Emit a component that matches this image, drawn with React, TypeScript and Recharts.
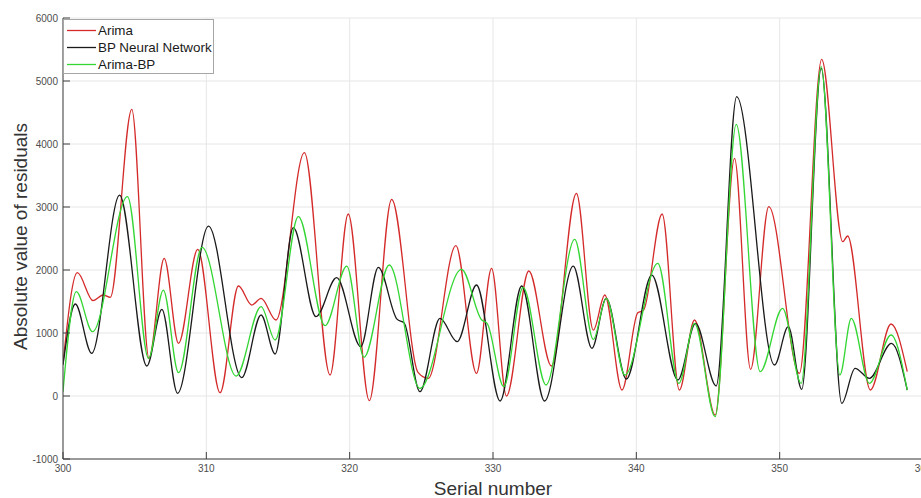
import React from 'react';
import { LineChart, Line, XAxis, YAxis, CartesianGrid, Legend } from 'recharts';

// [serial number, absolute residual] — read at the curve extrema
const arimaPoints: [number, number][] = [
  [300, 520], [301.0, 1957], [302.1, 1513], [302.8, 1603], [303.3, 1566], [304.8, 4550],
  [306.0, 598], [307.06, 2185], [308.06, 836], [309.4, 2328], [310.96, 52], [312.24, 1746],
  [313.17, 1444], [313.82, 1550], [314.86, 1206], [316.84, 3862], [318.63, 333], [319.9, 2889],
  [321.37, -74], [322.93, 3122], [324.78, 370], [325.48, 280], [327.41, 2386], [328.85, 360],
  [329.9, 2026], [330.94, 0], [332.5, 1984], [334.08, 476], [335.82, 3217], [337.0, 1047],
  [337.8, 1603], [339.0, 95], [340.1, 1320], [340.5, 1360], [341.8, 2889], [343.0, 95],
  [344.06, 1206], [345.5, -302], [346.85, 3773], [347.97, 424], [349.24, 3005], [351.38, 360],
  [352.93, 5344], [354.4, 2449], [354.74, 2540], [356.33, 95], [357.77, 1143], [358.9, 386],
];

const bpPoints: [number, number][] = [
  [300, 492], [300.86, 1460], [302.0, 677], [303.95, 3190], [305.85, 476], [306.9, 1376],
  [307.99, 43], [310.15, 2698], [312.47, 291], [313.82, 1286], [314.8, 667], [316.07, 2672],
  [317.65, 1259], [319.09, 1878], [320.77, 783], [322.0, 2042], [323.3, 1220], [323.8, 1160],
  [324.9, 68], [326.3, 1233], [327.5, 862], [328.85, 1762], [330.5, -79], [332.0, 1746],
  [333.6, -79], [335.6, 2063], [336.9, 757], [337.9, 1550], [339.3, 270], [341.08, 1920],
  [342.9, 254], [344.13, 1154], [345.57, 159], [347.0, 4751], [349.64, 492], [350.6, 1100],
  [351.54, 106], [352.9, 5201], [354.33, -116], [355.26, 440], [356.26, 280], [357.8, 836],
  [358.9, 95],
];

const hybridPoints: [number, number][] = [
  [300, 68], [300.93, 1656], [302.06, 1021], [304.5, 3164], [305.97, 598], [307.0, 1682],
  [308.06, 370], [309.7, 2360], [312.08, 317], [313.82, 1418], [314.8, 889], [316.42, 2846],
  [318.28, 1116], [319.8, 2063], [321.0, 614], [322.76, 2079], [324.9, 122], [327.8, 2011],
  [329.2, 1210], [329.6, 1150], [330.75, 148], [332.1, 1725], [333.7, 175], [335.7, 2487],
  [337.0, 900], [337.9, 1550], [339.2, 333], [341.5, 2106], [342.97, 201], [344.06, 1154],
  [345.5, -328], [346.97, 4312], [348.64, 386], [350.2, 1392], [351.5, 201], [352.9, 5228],
  [354.2, 333], [355.0, 1233], [356.26, 201], [357.77, 968], [358.9, 95],
];

const xTicks = [300, 310, 320, 330, 340, 350, 360];
const yTicks = [-1000, 0, 1000, 2000, 3000, 4000, 5000, 6000];
const seriesNames = ['Arima', 'BP Neural Network', 'Arima-BP'];
const seriesColors = ['#d42a2a', '#1a1a1a', '#33d633'];

const toRows = (pts: [number, number][]) => pts.map(([x, y]) => ({ x, y }));

const FONT = '"Liberation Sans", Arial, Helvetica, sans-serif';

const renderLegend = () => (
  <div
    style={{
      width: 151,
      height: 55,
      boxSizing: 'border-box',
      border: '1px solid #a6a6a6',
      background: '#fff',
      paddingTop: 2,
      fontFamily: FONT,
      fontSize: 13.4,
      color: '#1a1a1a',
    }}
  >
    {seriesNames.map((name, i) => (
      <div key={name} style={{ height: 17, lineHeight: '17px', display: 'flex', alignItems: 'center' }}>
        <svg width={34} height={17} style={{ flex: 'none' }}>
          <line x1={3} y1={8.5} x2={32} y2={8.5} stroke={seriesColors[i]} strokeWidth={1.3} />
        </svg>
        <span style={{ whiteSpace: 'nowrap' }}>{name}</span>
      </div>
    ))}
  </div>
);

const renderXLabel = (props: any) => {
  const vb = props.viewBox || {};
  return (
    <text
      x={vb.x + vb.width / 2}
      y={495}
      textAnchor="middle"
      fontFamily={FONT}
      fontSize={19}
      fill="#333"
    >
      Serial number
    </text>
  );
};

const renderYLabel = (props: any) => {
  const vb = props.viewBox || {};
  const cx = 20;
  const cy = vb.y + vb.height / 2 - 2;
  return (
    <text
      x={cx}
      y={cy}
      transform={`rotate(-90 ${cx} ${cy})`}
      textAnchor="middle"
      dominantBaseline="central"
      fontFamily={FONT}
      fontSize={19}
      fill="#333"
    >
      Absolute value of residuals
    </text>
  );
};

export default function App() {
  const tickStyle = { fontSize: 10, fill: '#4d4d4d', fontFamily: FONT };
  return (
    <div style={{ width: 921, height: 498, overflow: 'hidden', position: 'relative', background: '#fff' }}>
      <style>{'body{margin:0;overflow:hidden;background:#fff}'}</style>
      <LineChart width={940} height={498} margin={{ top: 18, right: 17, left: 0, bottom: 0 }}>
        <CartesianGrid stroke="#e6e6e6" strokeWidth={1} />
        <XAxis
          type="number"
          dataKey="x"
          domain={[300, 360]}
          ticks={xTicks}
          interval={0}
          allowDataOverflow
          height={39}
          tickSize={-7}
          tickMargin={13}
          tick={tickStyle}
          stroke="#404040"
          axisLine={{ stroke: '#404040' }}
          tickLine={{ stroke: '#404040' }}
          label={renderXLabel}
        />
        <YAxis
          type="number"
          dataKey="y"
          domain={[-1000, 6000]}
          ticks={yTicks}
          interval={0}
          allowDataOverflow
          width={63}
          tickSize={-7}
          tickMargin={12}
          tick={tickStyle}
          stroke="#404040"
          axisLine={{ stroke: '#404040' }}
          tickLine={{ stroke: '#404040' }}
          label={renderYLabel}
        />
        <Legend
          layout="horizontal"
          verticalAlign="middle"
          align="center"
          content={renderLegend}
          wrapperStyle={{ left: 63, top: 19, width: 151, height: 55 }}
        />
        <Line
          data={toRows(arimaPoints)}
          dataKey="y"
          name={seriesNames[0]}
          type="monotone"
          stroke={seriesColors[0]}
          strokeWidth={1.3}
          dot={false}
          activeDot={false}
          isAnimationActive={false}
        />
        <Line
          data={toRows(bpPoints)}
          dataKey="y"
          name={seriesNames[1]}
          type="monotone"
          stroke={seriesColors[1]}
          strokeWidth={1.3}
          dot={false}
          activeDot={false}
          isAnimationActive={false}
        />
        <Line
          data={toRows(hybridPoints)}
          dataKey="y"
          name={seriesNames[2]}
          type="monotone"
          stroke={seriesColors[2]}
          strokeWidth={1.3}
          dot={false}
          activeDot={false}
          isAnimationActive={false}
        />
      </LineChart>
    </div>
  );
}
